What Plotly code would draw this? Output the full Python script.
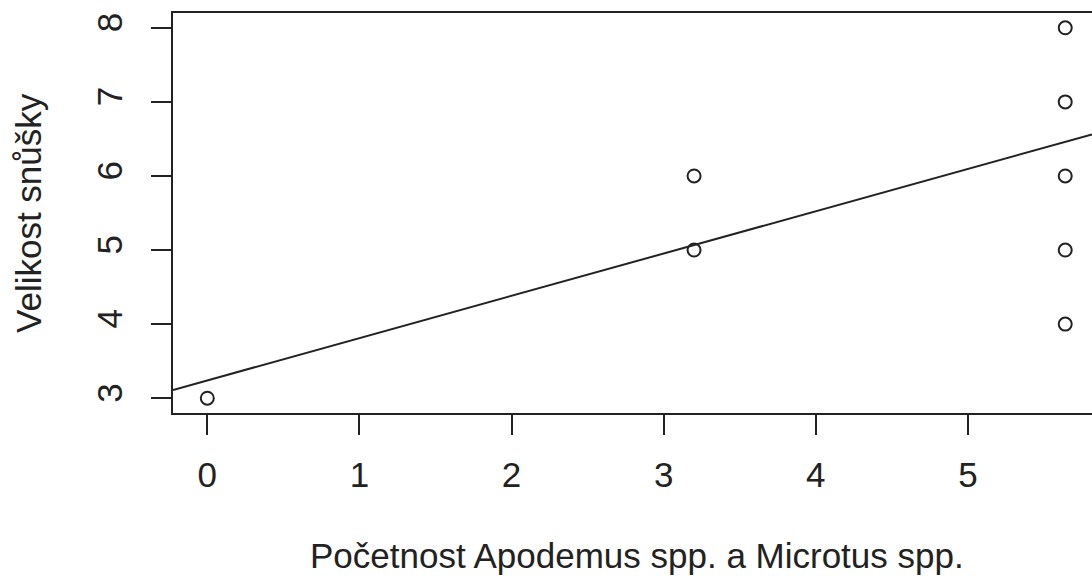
import plotly.graph_objects as go

# Data
pocetnost = [0.0, 3.2, 3.2, 5.64, 5.64, 5.64, 5.64, 5.64]
velikost = [3, 5, 6, 4, 5, 6, 7, 8]
x_ticks = [0, 1, 2, 3, 4, 5]
y_ticks = [3, 4, 5, 6, 7, 8]
fit_intercept = 3.24
fit_slope = 0.571

x_range = [-0.2256, 5.816]
y_range = [2.8, 8.2]

FONT = "Liberation Sans, Arial, sans-serif"
FS = 35

fig = go.Figure()
fig.add_trace(go.Scatter(
    x=pocetnost, y=velikost, mode="markers",
    marker=dict(symbol="circle-open", size=13, color="#222222", line=dict(width=2)),
    showlegend=False, hoverinfo="x+y"))
fit_x = [x_range[0], x_range[1]]
fit_y = [fit_intercept + fit_slope * v for v in fit_x]
fig.add_trace(go.Scatter(
    x=fit_x, y=fit_y, mode="lines",
    line=dict(color="#222222", width=2), showlegend=False, hoverinfo="skip"))

fig.update_layout(
    width=1092, height=576,
    margin=dict(l=173, r=0, t=13, b=163),
    paper_bgcolor="white", plot_bgcolor="white",
    font=dict(family=FONT, size=FS, color="#222222"),
    xaxis=dict(range=x_range, tickvals=x_ticks, showgrid=False, zeroline=False,
               showline=True, mirror=True, linecolor="#222222", linewidth=2,
               ticks="outside", ticklen=20, tickwidth=2, tickcolor="#222222",
               ticklabelstandoff=10, tickfont=dict(size=FS)),
    yaxis=dict(range=y_range, tickvals=y_ticks, showgrid=False, zeroline=False,
               showline=True, mirror=False, linecolor="#222222", linewidth=2,
               ticks="outside", ticklen=20, tickwidth=2, tickcolor="#222222",
               tickangle=-90, ticklabelstandoff=15, tickfont=dict(size=FS)),
    annotations=[
        dict(text="Početnost Apodemus spp. a Microtus spp.", xref="paper", yref="paper",
             x=0.505, y=0, yshift=-142, xanchor="center", yanchor="middle",
             showarrow=False, font=dict(size=FS)),
        dict(text="Velikost snůšky", xref="paper", yref="paper",
             x=0, xshift=-145, y=0.5, xanchor="center", yanchor="middle",
             textangle=-90, showarrow=False, font=dict(size=FS)),
    ],
)

fig.write_html("out.html")
